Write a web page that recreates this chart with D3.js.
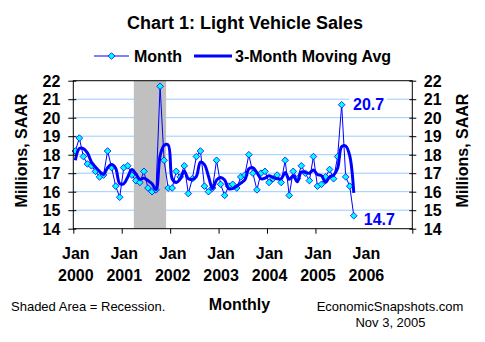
<!DOCTYPE html>
<html>
<head>
<meta charset="utf-8">
<style>
  body { margin: 0; background: #fff; }
  svg { display: block; font-family: Arial, "Liberation Sans", sans-serif; }
  .axis path { display: none; }
  .axis line { stroke: #000; }
  .axis text { font-size: 16px; font-weight: bold; fill: #000; }
</style>
</head>
<body>
<svg id="chart" width="485" height="342"></svg>
<script src="https://d3js.org/d3.v7.min.js"></script>
<script>
// Light vehicle sales, millions of units at SAAR, one array per year
var sales2000 = [18.2, 18.9, 17.9, 17.5, 17.4, 17.1, 16.8, 16.9, 18.2, 17.3, 16.3, 15.7];
var sales2001 = [17.3, 17.4, 16.9, 16.6, 16.5, 17.1, 16.2, 16.0, 16.1, 21.7, 17.7, 16.2];
var sales2002 = [16.2, 17.1, 16.8, 17.4, 15.9, 16.7, 17.9, 18.2, 16.3, 16.0, 16.2, 17.7];
var sales2003 = [16.4, 15.8, 16.3, 16.4, 16.2, 16.8, 16.9, 18.0, 17.0, 16.1, 17.0, 17.1];
var sales2004 = [16.5, 16.7, 16.9, 16.5, 17.7, 15.8, 17.1, 16.7, 17.4, 17.0, 16.6, 17.9];
var sales2005 = [16.3, 16.4, 16.8, 17.2, 16.7, 17.9, 20.7, 16.8, 16.3, 14.7];
// Nov and Dec 1999, only used to start the moving average
var sales1999 = [17.0, 17.9];

var yearLabels = ["2000", "2001", "2002", "2003", "2004", "2005", "2006"];
var yTicks = [14, 15, 16, 17, 18, 19, 20, 21, 22];
var recessionMonths = ["2001-04", "2001-11"];
var labelledMonths = ["2005-07", "2005-10"];

var W = 485, H = 342;
var pL = 73.3, pR = 412.3, pT = 80.7, pB = 228.7;
var nMonths = yearLabels.length * 12;

var sales = [].concat(sales2000, sales2001, sales2002, sales2003, sales2004, sales2005);
var withPrior = sales1999.concat(sales);
var avg3 = sales.map(function(v, i) {
  return d3.mean(withPrior.slice(i, i + 3));
});

function monthIndex(s) {
  var p = s.split("-");
  return (+p[0] - 2000) * 12 + (+p[1] - 1);
}

var x = d3.scaleLinear().domain([0, nMonths]).range([pL, pR]);
var y = d3.scaleLinear().domain([14, 22]).range([pB, pT]);
var cx = function(i) { return x(i + 0.5); };
var diamond = d3.symbol(d3.symbolDiamond2, 28)();

var svg = d3.select("#chart");
svg.append("rect").attr("width", W).attr("height", H).attr("fill", "#fff");

// title
svg.append("text")
  .attr("x", 245).attr("y", 29)
  .attr("text-anchor", "middle")
  .style("font-size", "18px").style("font-weight", "bold")
  .text("Chart 1: Light Vehicle Sales");

// legend
var lg = svg.append("g").style("font-size", "16px").style("font-weight", "bold");
lg.append("line").attr("x1", 94).attr("x2", 129).attr("y1", 56).attr("y2", 56)
  .attr("stroke", "#0000ff").attr("stroke-width", 1);
lg.append("path").attr("d", diamond)
  .attr("transform", "translate(111.5,56)")
  .attr("fill", "#00ffff").attr("stroke", "#0000ff").attr("stroke-width", 0.8);
lg.append("text").attr("x", 134).attr("y", 62).text("Month");
lg.append("line").attr("x1", 194).attr("x2", 232).attr("y1", 56).attr("y2", 56)
  .attr("stroke", "#0000ff").attr("stroke-width", 3);
lg.append("text").attr("x", 235).attr("y", 62).text("3-Month Moving Avg");

// gridlines
svg.append("g").selectAll("line")
  .data(yTicks.slice(1, -1))
  .join("line")
  .attr("x1", pL).attr("x2", pR)
  .attr("y1", function(d) { return y(d); })
  .attr("y2", function(d) { return y(d); })
  .attr("stroke", "#99ccff").attr("stroke-width", 1);

// recession band
svg.append("rect")
  .attr("x", x(monthIndex(recessionMonths[0])))
  .attr("width", x(monthIndex(recessionMonths[1]) + 1) - x(monthIndex(recessionMonths[0])))
  .attr("y", pT).attr("height", pB - pT)
  .attr("fill", "#c0c0c0");

// monthly series
svg.append("path")
  .datum(sales)
  .attr("fill", "none").attr("stroke", "#0000ff").attr("stroke-width", 1)
  .attr("d", d3.line().x(function(d, i) { return cx(i); }).y(function(d) { return y(d); }));

svg.append("g").selectAll("path")
  .data(sales)
  .join("path")
  .attr("d", diamond)
  .attr("transform", function(d, i) { return "translate(" + cx(i) + "," + y(d) + ")"; })
  .attr("fill", "#00ffff").attr("stroke", "#0000ff").attr("stroke-width", 0.8);

// moving average
svg.append("path")
  .datum(avg3)
  .attr("fill", "none").attr("stroke", "#0000ff").attr("stroke-width", 3)
  .attr("stroke-linejoin", "round")
  .attr("d", d3.line().curve(d3.curveCatmullRom)
    .x(function(d, i) { return cx(i); }).y(function(d) { return y(d); }));

// value labels: the summer peak and the latest month
var offsets = [[11.4, 5.3], [10, 9]];
labelledMonths.forEach(function(m, k) {
  var i = monthIndex(m);
  var t = d3.format(".1f")(sales[i]);
  var tx = cx(i) + offsets[k][0], ty = y(sales[i]) + offsets[k][1];
  svg.append("rect")
    .attr("x", tx - 4).attr("y", ty - 14).attr("width", 38).attr("height", 19)
    .attr("fill", "#fff");
  svg.append("text")
    .attr("x", tx).attr("y", ty)
    .attr("fill", "#0000ff")
    .style("font-size", "16px").style("font-weight", "bold")
    .text(t);
});

// frame
svg.append("rect")
  .attr("x", pL).attr("y", pT)
  .attr("width", pR - pL).attr("height", pB - pT)
  .attr("fill", "none").attr("stroke", "#000").attr("stroke-width", 1);

// y axes
var yl = svg.append("g").attr("class", "axis")
  .attr("transform", "translate(" + pL + ",0)")
  .call(d3.axisLeft(y).tickValues(yTicks).tickSize(5).tickPadding(8));
yl.selectAll(".tick line").attr("x1", 3);
yl.selectAll(".tick text").attr("dy", "0.36em");

var yr = svg.append("g").attr("class", "axis")
  .attr("transform", "translate(" + pR + ",0)")
  .call(d3.axisRight(y).tickValues(yTicks).tickSize(4).tickPadding(7.5));
yr.selectAll(".tick line").attr("x1", -3);
yr.selectAll(".tick text").attr("dy", "0.36em");

// x axis: tick marks on year boundaries, labels centred on January
var yearTicks = d3.range(0, nMonths - 12, 12).concat([nMonths]);
svg.append("g").attr("class", "axis")
  .attr("transform", "translate(0," + pB + ")")
  .call(d3.axisBottom(x).tickValues(yearTicks).tickSize(5).tickFormat(""));

var xl = svg.append("g").attr("class", "axis")
  .attr("transform", "translate(0," + pB + ")")
  .call(d3.axisBottom(x).tickValues(yearLabels.map(function(d, k) { return k * 12 + 0.5; }))
    .tickSize(0).tickFormat(""));
xl.selectAll(".tick").each(function(d, k) {
  var t = d3.select(this).select("text").attr("y", 0).attr("dy", 0);
  t.append("tspan").attr("x", 0).attr("y", 30.6).text("Jan");
  t.append("tspan").attr("x", 0).attr("y", 52).text(yearLabels[k]);
});

// axis titles
[26.5, 468].forEach(function(px) {
  svg.append("text")
    .attr("transform", "translate(" + px + ",150.5) rotate(-90)")
    .attr("text-anchor", "middle")
    .style("font-size", "16px").style("font-weight", "bold")
    .text("Millions, SAAR");
});

svg.append("text").attr("x", 239.5).attr("y", 310)
  .attr("text-anchor", "middle")
  .style("font-size", "16px").style("font-weight", "bold")
  .text("Monthly");

var notes = svg.append("g").style("font-size", "13px");
notes.append("text").attr("x", 11).attr("y", 311).text("Shaded Area = Recession.");
notes.append("text").attr("x", 390).attr("y", 311).attr("text-anchor", "middle")
  .text("EconomicSnapshots.com");
notes.append("text").attr("x", 390.5).attr("y", 327).attr("text-anchor", "middle")
  .text("Nov 3, 2005");
</script>
</body>
</html>
